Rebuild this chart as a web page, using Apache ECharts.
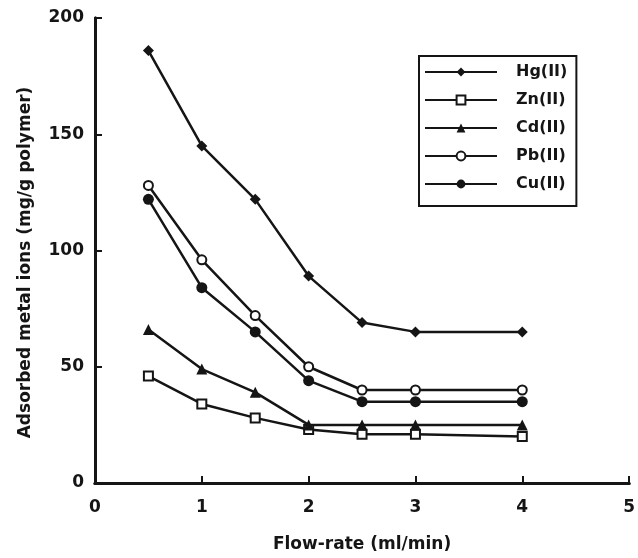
<!DOCTYPE html>
<html style="height: 100%">
<head>
    <meta charset="UTF-8" />
    <script src="https://cdn.jsdelivr.net/npm/echarts@6/dist/echarts.min.js"></script>
    <style>body{margin:0;background:#fff;}</style>
</head>
<body>
    <div id="main" style="width:638px;height:558px;"></div>
    <script>
        /* 数据 */
        var flowRate = [0.5, 1, 1.5, 2, 2.5, 3, 4];
        var hg = [186, 145, 122, 89, 69, 65, 65];
        var zn = [46, 34, 28, 23, 21, 21, 20];
        var cd = [66, 49, 39, 25, 25, 25, 25];
        var pb = [128, 96, 72, 50, 40, 40, 40];
        var cu = [122, 84, 65, 44, 35, 35, 35];
        var seriesNames = ['Hg(II)', 'Zn(II)', 'Cd(II)', 'Pb(II)', 'Cu(II)'];

        function pairs(ys){
            var out = [];
            for(var i = 0; i < flowRate.length; i++){
                out.push([flowRate[i], ys[i]]);
            }
            return out;
        }

        var font = 'DejaVu Sans, sans-serif';
        var app = echarts.init(document.getElementById('main'));

        function mkSeries(name, ys, symbol, size, filled){
            return {
                name: name,
                type: 'line',
                data: pairs(ys),
                symbol: symbol,
                symbolSize: size,
                showAllSymbol: true,
                lineStyle: {color: '#151515', width: 2.5},
                itemStyle: {color: filled ? '#151515' : '#fff', borderColor: '#151515', borderWidth: filled ? 0 : 2},
                emphasis: {disabled: true}
            };
        }

        var option = {
            animation: false,
            backgroundColor: '#fff',
            grid: {left: 95, right: 7, top: 18, bottom: 73},
            legend: {
                orient: 'vertical',
                left: 419,
                top: 56,
                data: seriesNames,
                itemWidth: 72,
                itemHeight: 11,
                itemGap: 8,
                padding: [6, 9, 12, 5],
                borderColor: '#151515',
                borderWidth: 2,
                textStyle: {fontFamily: font, fontSize: 16, fontWeight: 'bold', lineHeight: 20, color: '#151515', padding: [0, 0, 0, 14]}
            },
            xAxis: [
                {
                    type: 'value',
                    min: 0, max: 5, interval: 1,
                    name: 'Flow-rate (ml/min)',
                    nameLocation: 'middle',
                    nameGap: 53,
                    nameTextStyle: {fontFamily: font, fontSize: 17, fontWeight: 'bold', color: '#151515'},
                    axisLine: {lineStyle: {color: '#151515', width: 3}},
                    axisTick: {inside: true, length: 7, lineStyle: {color: '#151515', width: 2}},
                    axisLabel: {fontFamily: font, fontSize: 17, fontWeight: 'bold', color: '#151515', margin: 16},
                    splitLine: {show: false}
                },
                {
                    type: 'value', position: 'top', min: 0, max: 5,
                    axisLine: {lineStyle: {color: '#151515', width: 3}},
                    axisTick: {show: false}, axisLabel: {show: false}, splitLine: {show: false}
                }
            ],
            yAxis: [
                {
                    type: 'value',
                    min: 0, max: 200, interval: 50,
                    name: 'Adsorbed metal ions (mg/g polymer)',
                    nameLocation: 'middle',
                    nameGap: 61,
                    nameTextStyle: {fontFamily: font, fontSize: 17, fontWeight: 'bold', color: '#151515', padding: [0, 24, 0, 0]},
                    axisLine: {show: true, lineStyle: {color: '#151515', width: 3}},
                    axisTick: {show: true, inside: true, length: 7, lineStyle: {color: '#151515', width: 2}},
                    axisLabel: {fontFamily: font, fontSize: 17, fontWeight: 'bold', color: '#151515', margin: 11},
                    splitLine: {show: false}
                },
                {
                    type: 'value', position: 'right', min: 0, max: 200,
                    axisLine: {show: true, lineStyle: {color: '#151515', width: 3}},
                    axisTick: {show: false}, axisLabel: {show: false}, splitLine: {show: false}
                }
            ],
            series: [
                mkSeries('Hg(II)', hg, 'diamond', 11, true),
                mkSeries('Zn(II)', zn, 'rect', 9, false),
                mkSeries('Cd(II)', cd, 'triangle', 11, true),
                mkSeries('Pb(II)', pb, 'circle', 9, false),
                mkSeries('Cu(II)', cu, 'circle', 11, true)
            ]
        };
        app.setOption(option);
    </script>
</body>
</html>
